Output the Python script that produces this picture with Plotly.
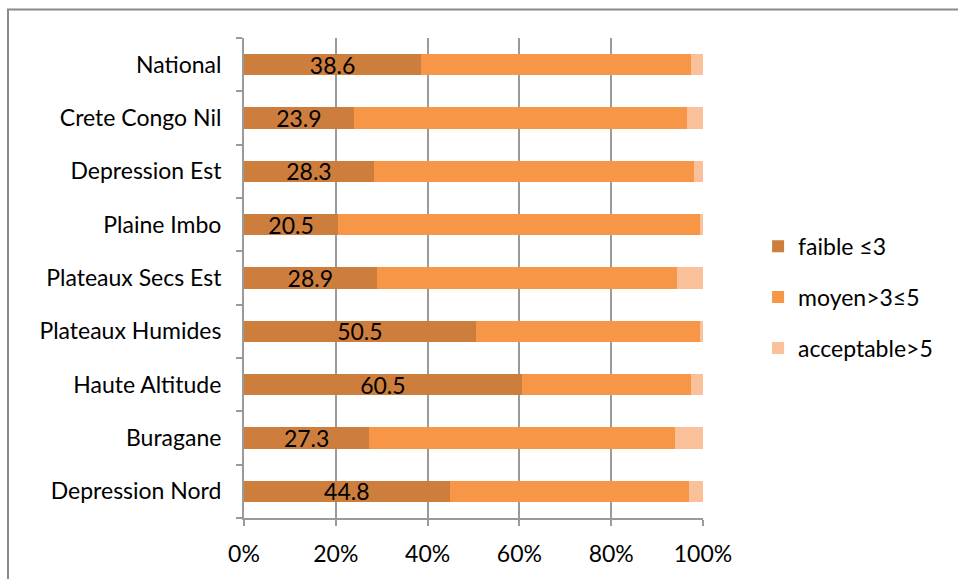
import plotly.graph_objects as go

categories = ["National", "Crete Congo Nil", "Depression Est", "Plaine Imbo",
              "Plateaux Secs Est", "Plateaux Humides", "Haute Altitude",
              "Buragane", "Depression Nord"]
faible = [38.6, 23.9, 28.3, 20.5, 28.9, 50.5, 60.5, 27.3, 44.8]
moyen = [58.8, 72.6, 69.7, 78.8, 65.4, 48.8, 36.9, 66.6, 52.2]
acceptable = [2.6, 3.5, 2.0, 0.7, 5.7, 0.7, 2.6, 6.1, 3.0]
series_names = ["faible ≤3", "moyen>3≤5", "acceptable>5"]
colors = ["#CD7D3C", "#F79646", "#FAC09A"]
tick_vals = [0, 20, 40, 60, 80, 100]
tick_text = ["0%", "20%", "40%", "60%", "80%", "100%"]

FONT = "Lato, 'Open Sans', sans-serif"
FS = 23

fig = go.Figure()
for i, (name, vals, col) in enumerate(zip(series_names, [faible, moyen, acceptable], colors)):
    first = i == 0
    fig.add_trace(go.Bar(
        y=categories, x=vals, name=name, orientation="h",
        legendgroup=f"g{i}",
        marker=dict(color=col, line=dict(width=0)),
        text=[f"{v:.1f}" for v in vals] if first else None,
        textposition="inside" if first else "none",
        insidetextanchor="middle",
        constraintext="none",
        textfont=dict(color="black", size=FS, family=FONT),
        hoverinfo="x+name",
    ))

fig.update_layout(
    barmode="stack",
    bargap=0.6,
    width=958, height=579,
    margin=dict(l=244, r=255, t=38, b=61),
    paper_bgcolor="white", plot_bgcolor="white",
    font=dict(family=FONT, size=FS, color="black"),
    legend=dict(x=1.12, y=0.46, xanchor="left", yanchor="middle",
                traceorder="grouped", tracegroupgap=18,
                font=dict(size=FS, family=FONT)),
    xaxis=dict(range=[0, 100], tickvals=tick_vals, ticktext=tick_text,
               showgrid=True, gridcolor="#9a9a9a", gridwidth=2,
               ticks="outside", ticklen=6, tickcolor="#9a9a9a", tickwidth=2,
               showline=True, linecolor="#9a9a9a", linewidth=2,
               ticklabelstandoff=8,
               zeroline=False, tickfont=dict(size=FS, family=FONT)),
    yaxis=dict(categoryorder="array", categoryarray=categories[::-1],
               ticks="outside", tickson="boundaries", ticklen=6,
               tickcolor="#9a9a9a", tickwidth=2,
               showline=True, linecolor="#9a9a9a", linewidth=2,
               ticklabelstandoff=16,
               tickfont=dict(size=FS, family=FONT)),
    shapes=[dict(type="rect", xref="paper", yref="paper",
                 x0=(8 - 244) / 459, x1=(1000 - 244) / 459,
                 y0=(518 - 600) / 480, y1=(518 - 9.5) / 480,
                 line=dict(color="#8a8a8a", width=2), fillcolor="rgba(0,0,0,0)",
                 layer="below")],
)

fig.write_html("out.html")
